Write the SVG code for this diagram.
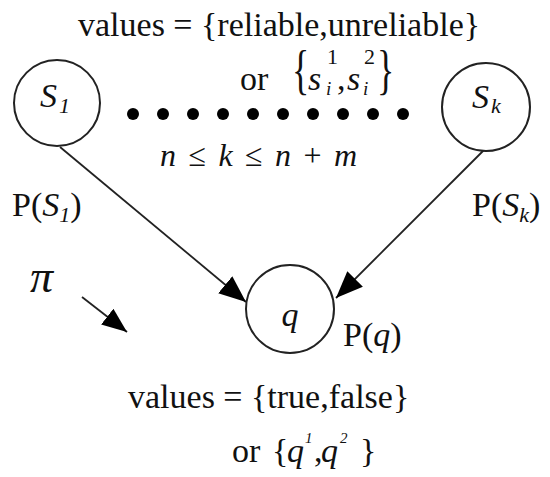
<svg xmlns="http://www.w3.org/2000/svg" width="550" height="477" viewBox="0 0 550 477" font-family="'Liberation Serif', 'DejaVu Serif', 'Times New Roman', serif">
<style>
text{font-family:'Liberation Serif','DejaVu Serif','Times New Roman',serif;fill:#111;}
.t{font-size:34px;}
.it{font-style:italic;}
.node{fill:#fff;stroke:#222;stroke-width:2;}
.edge{stroke:#222;stroke-width:1.8;fill:none;}
.dot{fill:#000;}
</style>
<defs>
<marker id="ah" markerUnits="userSpaceOnUse" markerWidth="28" markerHeight="24" refX="27" refY="11" orient="auto">
<path d="M0,0 L27,11 L0,22 z" fill="#000"/>
</marker>
<marker id="ahs" markerUnits="userSpaceOnUse" markerWidth="26" markerHeight="22" refX="25" refY="10" orient="auto">
<path d="M0,0 L25,10 L0,20 z" fill="#000"/>
</marker>
</defs>
<rect width="550" height="477" fill="#fff"/>

<!-- top labels -->
<text class="t" x="78" y="36">values = {reliable,unreliable}</text>
<text class="t" x="240" y="90">or</text>
<g id="s-values">
<text transform="translate(292,88) scale(1,1.5)" font-size="36">{</text>
<text class="t it" x="308" y="90">s</text>
<text x="327" y="64" font-size="22">1</text>
<text class="it" x="326" y="95" font-size="19">i</text>
<text class="t" x="337" y="90">,</text>
<text class="t it" x="347" y="90">s</text>
<text x="364" y="64" font-size="22">2</text>
<text class="it" x="363" y="95" font-size="19">i</text>
<text transform="translate(377,88) scale(1,1.5)" font-size="36">}</text>
</g>

<!-- dots -->
<g id="dots">
<circle class="dot" cx="133" cy="114" r="6"/>
<circle class="dot" cx="163" cy="114" r="6"/>
<circle class="dot" cx="193" cy="114" r="6"/>
<circle class="dot" cx="223" cy="114" r="6"/>
<circle class="dot" cx="253" cy="114" r="6"/>
<circle class="dot" cx="283" cy="114" r="6"/>
<circle class="dot" cx="313" cy="114" r="6"/>
<circle class="dot" cx="343" cy="114" r="6"/>
<circle class="dot" cx="373" cy="114" r="6"/>
<circle class="dot" cx="403" cy="114" r="6"/>
</g>

<text x="160" y="166" font-size="32" textLength="197" lengthAdjust="spacing"><tspan class="it">n</tspan> ≤ <tspan class="it">k</tspan> ≤ <tspan class="it">n</tspan> + <tspan class="it">m</tspan></text>

<!-- connectors -->
<g id="connectors">
<line class="edge" x1="60" y1="147" x2="246" y2="302" marker-end="url(#ah)"/>
<line class="edge" x1="484" y1="150" x2="336" y2="298" marker-end="url(#ah)"/>
<line class="edge" x1="82" y1="297" x2="127" y2="332" marker-end="url(#ahs)"/>
</g>

<!-- nodes -->
<g id="S1">
<circle class="node" cx="57" cy="103" r="43"/>
<text class="t it" x="40" y="107">S</text>
<text class="it" x="59" y="113" font-size="22">1</text>
</g>
<g id="Sk">
<circle class="node" cx="486" cy="107" r="44"/>
<text class="t it" x="472" y="108">S</text>
<text class="it" x="491" y="113" font-size="22">k</text>
</g>
<g id="q">
<circle class="node" cx="290" cy="309" r="44"/>
<text class="t it" x="290" y="326" text-anchor="middle">q</text>
</g>

<!-- probability labels -->
<text class="t" x="12" y="216">P(<tspan class="it">S</tspan><tspan class="it" font-size="22" dy="6">1</tspan><tspan dy="-6">)</tspan></text>
<text class="t" x="472" y="216">P(<tspan class="it">S</tspan><tspan class="it" font-size="22" dy="6">k</tspan><tspan dy="-6">)</tspan></text>
<text class="t" x="343" y="346">P(<tspan class="it">q</tspan>)</text>

<text class="it" x="30" y="292" font-size="46">π</text>

<!-- bottom labels -->
<text class="t" x="128" y="408">values = {true,false}</text>
<text class="t" x="232" y="462">or</text>
<g id="q-values">
<text class="t" x="272" y="462">{</text>
<text class="t it" x="287" y="462">q</text>
<text class="it" x="305" y="443" font-size="15">1</text>
<text class="t" x="314" y="462">,</text>
<text class="t it" x="321" y="462">q</text>
<text class="it" x="340" y="443" font-size="15">2</text>
<text class="t" x="360" y="462">}</text>
</g>
</svg>
